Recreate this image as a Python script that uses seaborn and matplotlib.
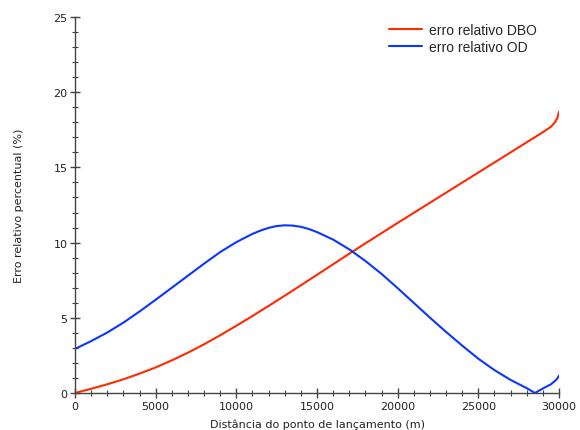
import pandas as pd
import matplotlib
matplotlib.use("Agg")
import matplotlib.pyplot as plt
from matplotlib.ticker import MultipleLocator
import seaborn as sns

# distance from the release point (m) and relative errors (%)
dist_dbo = [0, 1000, 2000, 3000, 4000, 5000, 6000, 7000, 8000, 9000, 10000,
            11000, 12000, 13000, 14000, 15000, 16000, 17000, 18000, 19000, 20000,
            21000, 22000, 23000, 24000, 25000, 26000, 27000, 28000, 29000, 29500,
            29750, 29900, 30000]
erro_dbo = [0.0, 0.28, 0.58, 0.91, 1.29, 1.70, 2.17, 2.68, 3.24, 3.84, 4.47,
            5.12, 5.79, 6.47, 7.16, 7.86, 8.56, 9.26, 9.95, 10.63, 11.31,
            11.98, 12.65, 13.32, 13.99, 14.66, 15.33, 16.00, 16.67, 17.34, 17.70,
            18.00, 18.30, 18.70]

dist_od = [0, 1000, 2000, 3000, 4000, 5000, 6000, 7000, 8000, 9000, 10000,
           11000, 11500, 12000, 12500, 13000, 13500, 14000, 14500, 15000, 16000,
           17000, 18000, 19000, 20000, 21000, 22000, 23000, 24000, 25000, 26000,
           27000, 28000, 28510, 29000, 29500, 29800, 29900, 30000]
erro_od = [2.93, 3.45, 4.02, 4.68, 5.42, 6.20, 7.00, 7.80, 8.60, 9.37, 10.03,
           10.58, 10.80, 10.98, 11.10, 11.15, 11.13, 11.05, 10.90, 10.70, 10.20,
           9.55, 8.78, 7.92, 6.97, 5.99, 5.01, 4.06, 3.15, 2.28, 1.52,
           0.87, 0.32, 0.0, 0.30, 0.58, 0.85, 0.97, 1.15]

df_dbo = pd.DataFrame({"dist": dist_dbo, "erro": erro_dbo})
df_od = pd.DataFrame({"dist": dist_od, "erro": erro_od})

sns.set_style("ticks")
plt.rcParams["font.family"] = ["DejaVu Sans"]

fig = plt.figure(figsize=(5.8, 4.31), dpi=100)
ax = fig.add_axes([75 / 580, 37 / 431, 484 / 580, 376 / 431])

sns.lineplot(data=df_dbo, x="dist", y="erro", ax=ax, color="#ff2a00",
             linewidth=1.5, label="erro relativo DBO", sort=False)
sns.lineplot(data=df_od, x="dist", y="erro", ax=ax, color="#0a36ff",
             linewidth=1.5, label="erro relativo OD", sort=False)

ax.set_xlim(0, 30000)
ax.set_ylim(0, 25)
ax.xaxis.set_major_locator(MultipleLocator(5000))
ax.xaxis.set_minor_locator(MultipleLocator(1000))
ax.yaxis.set_major_locator(MultipleLocator(5))
ax.yaxis.set_minor_locator(MultipleLocator(1))

sns.despine(ax=ax)
for s in ["left", "bottom"]:
    ax.spines[s].set_color("#444444")
    ax.spines[s].set_linewidth(1.0)
ax.tick_params(which="major", direction="inout", length=7, width=1.0,
               color="#444444", labelsize=8, pad=2, labelcolor="#222222")
ax.tick_params(which="minor", direction="inout", length=4, width=0.8,
               color="#444444")

ax.set_xlabel("Distância do ponto de lançamento (m)", fontsize=8, color="#222222", labelpad=6)
ax.set_ylabel("Erro relativo percentual (%)", fontsize=8, color="#222222", labelpad=21)

leg = ax.legend(loc="upper right", bbox_to_anchor=(0.981, 1.018), frameon=False,
                prop={"family": "Liberation Sans", "size": 10},
                handlelength=2.4, handletextpad=0.5, labelspacing=0.25)

fig.savefig("out.png", dpi=100)
